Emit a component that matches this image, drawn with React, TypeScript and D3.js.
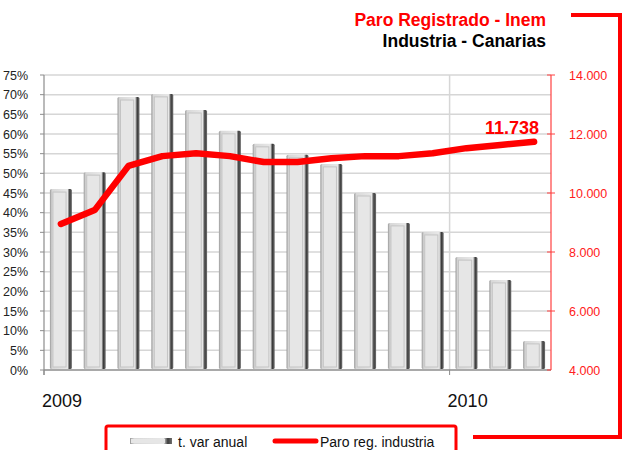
import React from "react";
import * as d3 from "d3";

const months = ["2009-01","2009-02","2009-03","2009-04","2009-05","2009-06","2009-07","2009-08","2009-09","2009-10","2009-11","2009-12","2010-01","2010-02","2010-03"];
const varAnual = [46.0, 50.3, 69.4, 70.2, 66.1, 60.8, 57.5, 54.7, 52.4, 45.0, 37.4, 35.1, 28.7, 22.9, 7.4];
const paroIndustria = [8950, 9420, 10920, 11250, 11350, 11250, 11050, 11050, 11180, 11250, 11250, 11350, 11520, 11630, 11738];
const leftTicks = d3.range(0, 76, 5);
const rightTicks = [4000, 6000, 8000, 10000, 12000, 14000];
const yearLabels = [{ label: "2009", at: 0 }, { label: "2010", at: 12 }];
const lastLabel = "11.738";

const FONT = "'Liberation Sans', Arial, sans-serif";

export default function App() {
  const left = 44, right = 551, top = 75, bottom = 370;
  const x = d3.scaleBand<string>().domain(months).range([left, right]).paddingInner(0.35).paddingOuter(0.175);
  const step = x.step();
  const edge = (i: number) => left + step * i;
  const yL = d3.scaleLinear().domain([0, 75]).range([bottom, top]);
  const yR = d3.scaleLinear().domain([4000, 14000]).range([bottom, top]);
  const fmt = (v: number) => d3.format(",")(v).replace(/,/g, ".");
  const line = d3.line<number>().x((_, i) => (x(months[i]) as number) + x.bandwidth() / 2).y((d) => yR(d)).curve(d3.curveLinear);
  const bw = x.bandwidth();

  return (
    <svg width={624} height={450} style={{ position: "absolute", left: 0, top: 0 }} fontFamily={FONT}>
      <defs>
        <linearGradient id="barg" x1="0" x2="1" y1="0" y2="0">
          <stop offset="0%" stopColor="#9a9a9a" />
          <stop offset="10%" stopColor="#d8d8d8" />
          <stop offset="80%" stopColor="#e8e8e8" />
          <stop offset="84%" stopColor="#9a9a9a" />
          <stop offset="90%" stopColor="#3c3c3c" />
          <stop offset="100%" stopColor="#707070" />
        </linearGradient>
      </defs>
      <rect width={624} height={450} fill="#fff" />
      {leftTicks.filter((t) => t > 0).map((t) => (
        <line key={t} x1={left} x2={right} y1={yL(t)} y2={yL(t)} stroke="#d6d6d6" strokeWidth={1.5} />
      ))}
      <line x1={edge(12)} x2={edge(12)} y1={top} y2={bottom} stroke="#d6d6d6" strokeWidth={1.5} />
      {varAnual.map((v, i) => {
        const bx = x(months[i]) as number;
        const by = yL(v);
        const h = bottom - 1 - by;
        return (
          <g key={i}>
            <rect x={bx} y={by} width={bw} height={h} fill="url(#barg)" rx={1.5} />
            <rect x={bx + 3} y={by + 3} width={bw * 0.78 - 4} height={h - 5} fill="#e6e6e6" stroke="#c4c4c4" strokeWidth={1} />
          </g>
        );
      })}
      <line x1={left} x2={left} y1={top} y2={bottom + 5} stroke="#8c8c8c" strokeWidth={1.2} />
      {leftTicks.map((t) => (
        <g key={t}>
          <line x1={left - 4} x2={left} y1={yL(t)} y2={yL(t)} stroke="#8c8c8c" />
          <text x={28} y={yL(t) + 4.5} textAnchor="end" fontSize={12.5} fill="#222">{t}%</text>
        </g>
      ))}
      <line x1={left} x2={right} y1={bottom} y2={bottom} stroke="#8c8c8c" strokeWidth={1.5} />
      {yearLabels.map((y) => (
        <g key={y.label}>
          <line x1={edge(y.at)} x2={edge(y.at)} y1={bottom} y2={bottom + 5} stroke="#8c8c8c" />
          <text x={edge(y.at) - 2} y={407} fontSize={18} fill="#111">{y.label}</text>
        </g>
      ))}
      <line x1={right} x2={right} y1={top} y2={bottom} stroke="#ff4040" strokeWidth={1.2} />
      <line x1={right} x2={right - 4} y1={bottom} y2={bottom} stroke="#ff4040" />
      {rightTicks.map((t) => (
        <g key={t}>
          {t > 4000 ? (
            <line x1={right - 4} x2={right + 4} y1={yR(t)} y2={yR(t)} stroke="#ff4040" />
          ) : null}
          <text x={569} y={yR(t) + 4.5} fontSize={12.5} fill="#ff2020">{fmt(t)}</text>
        </g>
      ))}
      <path d={line(paroIndustria) || ""} fill="none" stroke="#ff0000" strokeWidth={6.5} strokeLinecap="round" strokeLinejoin="round" />
      <text x={539} y={134} textAnchor="end" fontSize={18} fontWeight="bold" fill="#ff0000">{lastLabel}</text>
      <text x={546} y={26} textAnchor="end" fontSize={17.5} fontWeight="bold" fill="#ff0000">Paro Registrado - Inem</text>
      <text x={546} y={47} textAnchor="end" fontSize={17.5} fontWeight="bold" fill="#000">Industria - Canarias</text>
      <path d="M571,15 H620 V437 H473" fill="none" stroke="#ff0000" strokeWidth={4} />
      <rect x={106} y={426} width={350} height={40} rx={2} fill="#fff" stroke="#ff0000" strokeWidth={3} />
      <rect x={130} y={438} width={42} height={6} fill="url(#barg)" />
      <rect x={131} y={439} width={34} height={4} fill="#e6e6e6" />
      <text x={178} y={447} fontSize={14} fill="#111">t. var anual</text>
      <line x1={275} x2={316} y1={441} y2={441} stroke="#ff0000" strokeWidth={5} strokeLinecap="round" />
      <text x={320} y={447} fontSize={14} fill="#111">Paro reg. industria</text>
    </svg>
  );
}
